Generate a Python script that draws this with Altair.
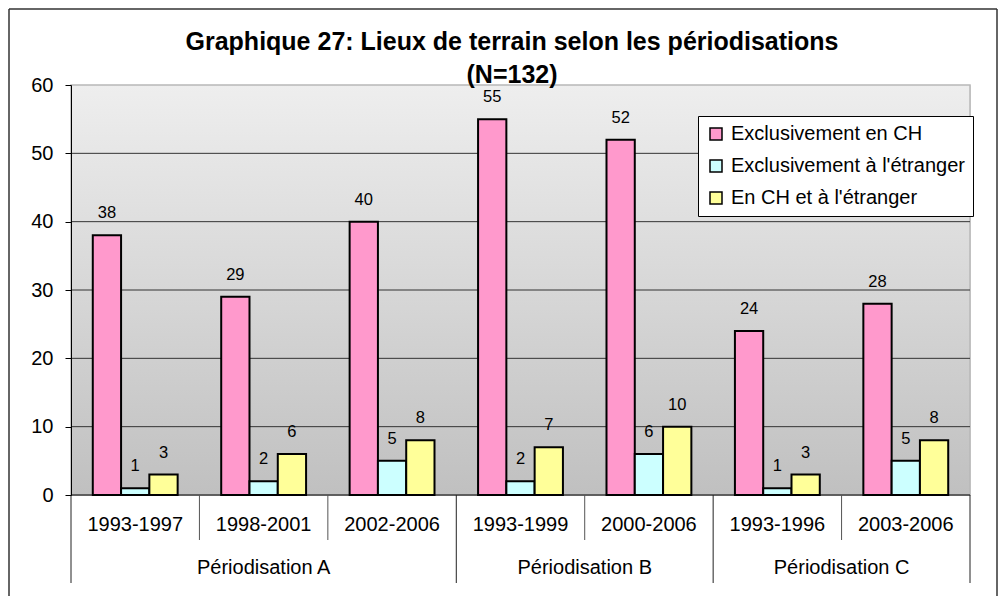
import altair as alt
import pandas as pd

# ---------------- data ----------------
periods = ["1993-1997", "1998-2001", "2002-2006", "1993-1999", "2000-2006", "1993-1996", "2003-2006"]
group_of = ["Périodisation A"] * 3 + ["Périodisation B"] * 2 + ["Périodisation C"] * 2
series = ["Exclusivement en CH", "Exclusivement à l'étranger", "En CH et à l'étranger"]
val_ch = [38, 29, 40, 55, 52, 24, 28]
val_etr = [1, 2, 5, 2, 6, 1, 5]
val_both = [3, 6, 8, 7, 10, 3, 8]
colors = ["#ff99cc", "#ccffff", "#ffff99"]
y_ticks = [0, 10, 20, 30, 40, 50, 60]
grid_vals = [10, 20, 30, 40, 50]
title_lines = ["Graphique 27: Lieux de terrain selon les périodisations", "(N=132)"]

rows = []
for i, p in enumerate(periods):
    for s, vals in zip(series, [val_ch, val_etr, val_both]):
        rows.append({"period": p, "group": group_of[i], "series": s, "value": vals[i]})
df = pd.DataFrame(rows)

W, H = 899, 410
FONT = "Liberation Sans"
AX_FS = 20

xscale = alt.Scale(domain=periods, paddingInner=0, paddingOuter=0)
yscale = alt.Scale(domain=[0, 60], nice=False, zero=True)
yaxis = alt.Axis(values=y_ticks, grid=False, title=None, domainColor="black", domainWidth=1,
                 tickColor="black", tickSize=6, labelFontSize=AX_FS, labelFont=FONT,
                 labelColor="black", labelPadding=12, zindex=1)

one = pd.DataFrame({"a": [0]})

# plot area background gradient
bg = alt.Chart(one).mark_rect(
    fill=alt.LinearGradient(gradient="linear", x1=0, x2=0, y1=0, y2=1,
                            stops=[alt.GradientStop(color="#eeeeee", offset=0),
                                   alt.GradientStop(color="#c0c0c0", offset=1)]),
    stroke="#b8b8b8", strokeWidth=1.5
).encode(x=alt.value(0), x2=alt.value(W), y=alt.value(0), y2=alt.value(H))

grid = alt.Chart(pd.DataFrame({"value": grid_vals})).mark_rule(color="#333333", strokeWidth=1).encode(
    y=alt.Y("value:Q", scale=yscale, axis=yaxis), x=alt.value(0), x2=alt.value(W))

bars = alt.Chart(df).mark_bar(stroke="black", strokeWidth=2).encode(
    x=alt.X("period:N", scale=xscale, axis=None, sort=periods),
    xOffset=alt.XOffset("series:N", scale=alt.Scale(domain=series, paddingInner=0, paddingOuter=0.77)),
    y=alt.Y("value:Q", scale=yscale, axis=yaxis),
    color=alt.Color("series:N", scale=alt.Scale(domain=series, range=colors),
                    legend=alt.Legend(title=None, orient="none", legendX=627, legendY=31,
                                      fillColor="white", strokeColor="black", padding=8,
                                      labelFontSize=20, labelFont=FONT, labelColor="black",
                                      symbolType="square", symbolSize=144,
                                      symbolStrokeColor="black", symbolStrokeWidth=1.5,
                                      rowPadding=12, labelOffset=5, labelLimit=400)),
)

labels = alt.Chart(df).mark_text(fontSize=16.5, font=FONT, color="black", baseline="middle", dy=-22).encode(
    x=alt.X("period:N", scale=xscale, axis=None, sort=periods),
    xOffset=alt.XOffset("series:N", scale=alt.Scale(domain=series, paddingInner=0, paddingOuter=0.77)),
    y=alt.Y("value:Q", scale=yscale, axis=yaxis),
    text="value:Q",
)

baseline = alt.Chart(one).mark_rule(color="black", strokeWidth=1.2).encode(
    x=alt.value(0), x2=alt.value(W), y=alt.value(H))

# x-axis separators
short_df = pd.DataFrame({"period": [periods[i] for i in (1, 2, 4, 6)]})
long_df = pd.DataFrame({"period": [periods[i] for i in (0, 3, 5)]})
end_df = pd.DataFrame({"period": [periods[6]]})
short_sep = alt.Chart(short_df).mark_rule(color="#555555", strokeWidth=1).encode(
    x=alt.X("period:N", scale=xscale, axis=None, bandPosition=0),
    y=alt.value(H), y2=alt.value(H + 45))
long_sep = alt.Chart(long_df).mark_rule(color="#222222", strokeWidth=1).encode(
    x=alt.X("period:N", scale=xscale, axis=None, bandPosition=0),
    y=alt.value(H), y2=alt.value(H + 88))
end_sep = alt.Chart(end_df).mark_rule(color="#222222", strokeWidth=1).encode(
    x=alt.X("period:N", scale=xscale, axis=None, bandPosition=1),
    y=alt.value(H), y2=alt.value(H + 88))

cat_labels = alt.Chart(pd.DataFrame({"period": periods})).mark_text(
    fontSize=AX_FS, font=FONT, color="black", baseline="middle").encode(
    x=alt.X("period:N", scale=xscale, axis=None),
    y=alt.value(H + 30), text="period:N")

grpA = alt.Chart(pd.DataFrame({"period": [periods[1]], "g": [group_of[1]]})).mark_text(
    fontSize=AX_FS, font=FONT, color="black", baseline="middle").encode(
    x=alt.X("period:N", scale=xscale, axis=None, bandPosition=0.5),
    y=alt.value(H + 73), text="g:N")
grpBC = alt.Chart(pd.DataFrame({"period": [periods[3], periods[5]], "g": [group_of[3], group_of[5]]})).mark_text(
    fontSize=AX_FS, font=FONT, color="black", baseline="middle").encode(
    x=alt.X("period:N", scale=xscale, axis=None, bandPosition=1),
    y=alt.value(H + 73), text="g:N")

t1 = alt.Chart(pd.DataFrame({"t": [title_lines[0]]})).mark_text(
    fontSize=25, font=FONT, fontWeight="bold", color="black", baseline="middle").encode(
    x=alt.value(441), y=alt.value(-43), text="t:N")
t2 = alt.Chart(pd.DataFrame({"t": [title_lines[1]]})).mark_text(
    fontSize=25, font=FONT, fontWeight="bold", color="black", baseline="middle").encode(
    x=alt.value(441), y=alt.value(-10), text="t:N")

# outer chart frame (left, top, right)
frame_l = alt.Chart(one).mark_rule(color="#333333", strokeWidth=1.5).encode(
    x=alt.value(-62), y=alt.value(-76), y2=alt.value(H + 101))
frame_t = alt.Chart(one).mark_rule(color="#333333", strokeWidth=1.5).encode(
    x=alt.value(-62), x2=alt.value(W + 27), y=alt.value(-76))
frame_r = alt.Chart(one).mark_rule(color="#333333", strokeWidth=1.5).encode(
    x=alt.value(W + 27), y=alt.value(-76), y2=alt.value(H + 101))

chart = alt.layer(
    bg, grid, bars, labels, baseline, short_sep, long_sep, end_sep,
    cat_labels, grpA, grpBC, t1, t2, frame_l, frame_t, frame_r
).properties(
    width=W, height=H,
    padding={"left": 63, "top": 77, "right": 28, "bottom": 101},
    autosize=alt.AutoSizeParams(type="none"),
    background="white",
).configure_view(stroke=None).configure(font=FONT)

chart.save("out.html", embed_options={"renderer": "svg", "actions": False})
